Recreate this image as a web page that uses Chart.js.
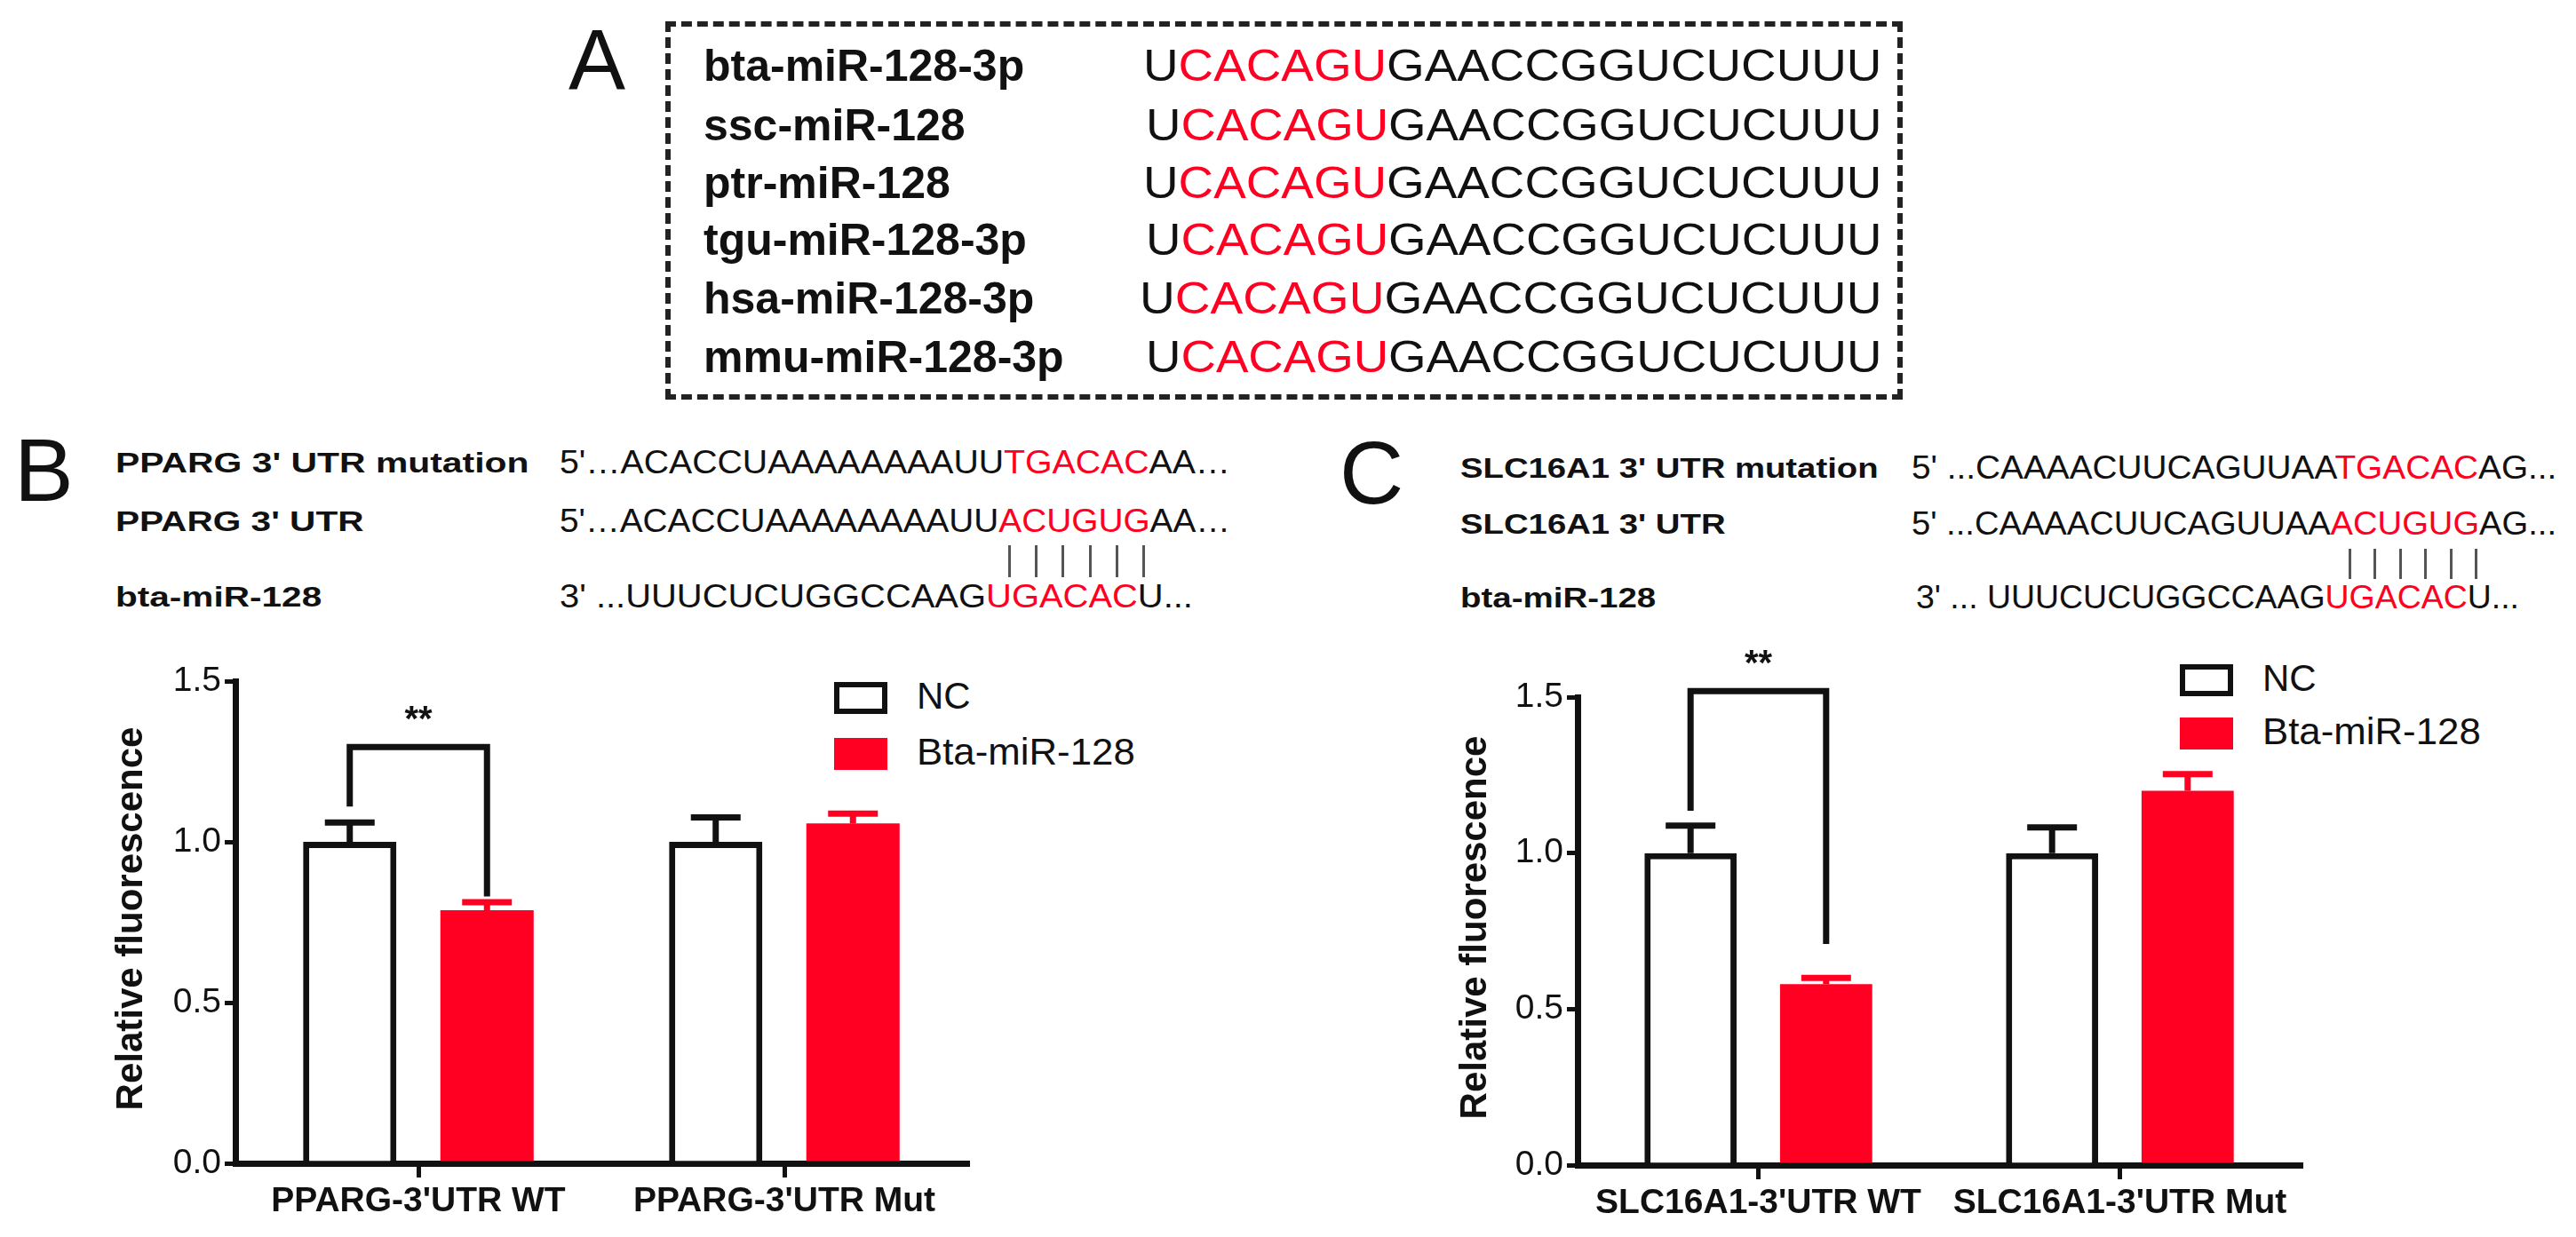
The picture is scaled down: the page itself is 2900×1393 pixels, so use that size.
<!DOCTYPE html>
<html><head><meta charset="utf-8">
<script src="https://cdn.jsdelivr.net/npm/chart.js@4/dist/chart.umd.min.js"></script>
<style>
body{margin:0;background:#fff;width:2900px;height:1393px;position:relative;overflow:hidden;font-family:Arial,"Liberation Sans",sans-serif;}
.t{position:absolute;white-space:pre;color:#111;line-height:1;transform-origin:0 50%;}
.r{color:#ff0022;}
.lab{font-weight:bold;}
#boxA{position:absolute;left:749px;top:24px;width:1393px;height:426px;border:6px dashed #222;box-sizing:border-box;}
.cv{position:absolute;}
.leg{position:absolute;box-sizing:border-box;}
</style></head>
<body>
<div id="boxA"></div>
<div id="txt"></div>
<canvas id="chartB" class="cv" style="left:0px;top:700px;width:1120px;height:693px;" width="1120" height="693"></canvas>
<canvas id="chartC" class="cv" style="left:1450px;top:700px;width:1180px;height:693px;" width="1180" height="693"></canvas>

<script>
// DATA
var speciesA = ['bta-miR-128-3p','ssc-miR-128','ptr-miR-128','tgu-miR-128-3p','hsa-miR-128-3p','mmu-miR-128-3p'];
var seqA = ['U','CACAGU','GAACCGGUCUCUUU'];

var catsB = ["PPARG-3'UTR WT","PPARG-3'UTR Mut"];
var ncB = [1.0, 1.0];
var ncErrB = [0.06, 0.076];
var miB = [0.787, 1.057];
var miErrB = [0.025, 0.031];
var bracketB = [1.11, 1.295, 0.83]; // left leg bottom, top, right leg bottom

var catsC = ["SLC16A1-3'UTR WT","SLC16A1-3'UTR Mut"];
var ncC = [1.0, 1.0];
var ncErrC = [0.088, 0.082];
var miC = [0.58, 1.2];
var miErrC = [0.02, 0.053];
var bracketC = [1.136, 1.519, 0.709];

var yTicks = [0, 0.5, 1.0, 1.5];

// text helpers: place text by left x, vertical centre y, stretch to width w
var html = '';
var fits = [];
function put(x, y, fs, s, w, cls){
  var id = 't' + fits.length;
  html += '<div id="' + id + '" class="t ' + (cls || '') + '" style="left:' + x + 'px;top:' + (y - fs * 0.55) + 'px;font-size:' + fs + 'px;">' + s + '</div>';
  fits.push([id, w]);
}
function red(s){ return '<span class="r">' + s + '</span>'; }

// panel A
put(640, 72, 96, 'A', 0);
var rowY = [76, 143, 208, 272, 338, 404];
var seqX = [1287, 1290, 1287, 1290, 1283, 1290];
speciesA.forEach(function(s, i){
  put(792, rowY[i], 50, s, 0, 'lab');
  put(seqX[i], rowY[i], 50, seqA[0] + red(seqA[1]) + seqA[2], 2118 - seqX[i]);
});

// panels B and C sequences
put(16, 534, 100, 'B', 0);
put(1508, 537, 100, 'C', 0);
var labB = ["PPARG 3' UTR mutation","PPARG 3' UTR","bta-miR-128"];
var labBw = [465, 279, 232];
var seqB = ["5'\u2026ACACCUAAAAAAAAUU" + red('TGACAC') + "AA\u2026",
            "5'\u2026ACACCUAAAAAAAAUU" + red('ACUGUG') + "AA\u2026",
            "3' ...UUUCUCUGGCCAAG" + red('UGACAC') + "U..."];
var seqBw = [755, 755, 713];
var rowB = [523, 589, 674];
var labC = ["SLC16A1 3' UTR mutation","SLC16A1 3' UTR","bta-miR-128"];
var labCw = [470, 298, 220];
var seqC = ["5' ...CAAAACUUCAGUUAA" + red('TGACAC') + "AG...",
            "5' ...CAAAACUUCAGUUAA" + red('ACUGUG') + "AG...",
            "3' ... UUUCUCUGGCCAAG" + red('UGACAC') + "U..."];
var seqCw = [726, 726, 679];
var seqCx = [2152, 2152, 2157];
var rowC = [529, 592, 675];
for (var i = 0; i < 3; i++){
  put(130, rowB[i], 32, labB[i], labBw[i], 'lab');
  put(630, rowB[i], 36, seqB[i], seqBw[i]);
  put(1644, rowC[i], 32, labC[i], labCw[i], 'lab');
  put(seqCx[i], rowC[i], 36, seqC[i], seqCw[i]);
}
// pairing pipes
function pipes(x0, x1, y0, y1){
  for (var k = 0; k < 6; k++){
    var x = x0 + (x1 - x0) * k / 5;
    html += '<div style="position:absolute;left:' + x + 'px;top:' + y0 + 'px;width:3px;height:' + (y1 - y0) + 'px;background:#555;"></div>';
  }
}
pipes(1135, 1286, 614, 650);
pipes(2644, 2786, 618, 652);

// legends
function legend(x, y1, y2, tx){
  html += '<div class="leg" style="left:' + x + 'px;top:' + (y1 - 18) + 'px;width:60px;height:36px;border:6px solid #111;background:#fff;"></div>';
  html += '<div class="leg" style="left:' + x + 'px;top:' + (y2 - 18) + 'px;width:60px;height:36px;background:#ff0022;"></div>';
  put(tx, y1, 42, 'NC', 0);
  put(tx, y2, 42, 'Bta-miR-128', 246);
}
legend(939, 786, 849, 1032);
legend(2454, 766, 826, 2547);

document.getElementById('txt').innerHTML = html;
fits.forEach(function(f){
  if (!f[1]) return;
  var el = document.getElementById(f[0]);
  el.style.transform = 'scaleX(' + (f[1] / el.offsetWidth) + ')';
});

// error bars (upward only), significance bracket, y title
var extras = {
  id: 'extras',
  afterDatasetsDraw: function(chart, args, opts){
    var c = chart.ctx, y = chart.scales.y;
    c.save();
    c.lineWidth = 7;
    [0, 1].forEach(function(di){
      var meta = chart.getDatasetMeta(di);
      var errs = opts.errs[di];
      c.strokeStyle = di == 0 ? '#111' : '#ff0022';
      meta.data.forEach(function(bar, i){
        var top = y.getPixelForValue(chart.data.datasets[di].data[i] + errs[i]);
        c.beginPath();
        c.moveTo(bar.x, bar.y); c.lineTo(bar.x, top);
        c.moveTo(bar.x - 28, top); c.lineTo(bar.x + 28, top);
        c.stroke();
      });
    });
    var b = opts.bracket;
    var x1 = chart.getDatasetMeta(0).data[0].x, x2 = chart.getDatasetMeta(1).data[0].x;
    c.strokeStyle = '#111';
    c.beginPath();
    c.moveTo(x1, y.getPixelForValue(b[0]));
    c.lineTo(x1, y.getPixelForValue(b[1]));
    c.lineTo(x2, y.getPixelForValue(b[1]));
    c.lineTo(x2, y.getPixelForValue(b[2]));
    c.stroke();
    c.fillStyle = '#111';
    c.font = 'bold 40px Arial';
    c.textAlign = 'center';
    c.fillText('**', (x1 + x2) / 2, y.getPixelForValue(b[1]) - 18);
    // y title
    c.translate(opts.titleX, (y.top + y.bottom) / 2 - 4);
    c.rotate(-Math.PI / 2);
    c.textBaseline = 'middle';
    c.font = 'bold 42px Arial';
    c.fillText('Relative fluorescence', 0, 0);
    c.restore();
  }
};

function makeChart(id, cats, nc, mi, errs, bracket, yWidth, pad, xH, titleX){
  return new Chart(document.getElementById(id), {
    type: 'bar',
    data: {
      labels: cats,
      datasets: [
        {label: 'NC', data: nc, backgroundColor: '#fff', borderColor: '#111', borderWidth: 7, borderSkipped: 'bottom'},
        {label: 'Bta-miR-128', data: mi, backgroundColor: '#ff0022', borderWidth: 0}
      ]
    },
    plugins: [extras],
    options: {
      responsive: false,
      animation: false,
      categoryPercentage: 0.75,
      barPercentage: 0.68,
      layout: {padding: pad},
      plugins: {legend: {display: false}, tooltip: {enabled: false}, extras: {errs: errs, bracket: bracket, titleX: titleX}},
      scales: {
        x: {
          grid: {display: true, drawOnChartArea: false, offset: false, tickLength: 16, color: '#111', lineWidth: 5},
          border: {color: '#111', width: 7},
          ticks: {color: '#111', font: {family: 'Arial', size: 39, weight: 'bold'}, padding: 4},
          afterFit: function(s){ s.height = xH; }
        },
        y: {
          min: 0, max: 1.5,
          afterBuildTicks: function(s){ s.ticks = yTicks.map(function(v){ return {value: v}; }); },
          grid: {display: true, drawOnChartArea: false, tickLength: 12, color: '#111', lineWidth: 5},
          border: {color: '#111', width: 7},
          ticks: {color: '#111', font: {family: 'Arial', size: 39}, padding: 4,
            callback: function(v){ return v.toFixed(1); }},
          afterFit: function(s){ s.width = yWidth; }
        }
      }
    }
  });
}

makeChart('chartB', catsB, ncB, miB, [ncErrB, miErrB], bracketB, 265, {top: 67, right: 31}, 83, 148);
makeChart('chartC', catsC, ncC, miC, [ncErrC, miErrC], bracketC, 326, {top: 85, right: 40}, 81, 211);
</script>
</body></html>
